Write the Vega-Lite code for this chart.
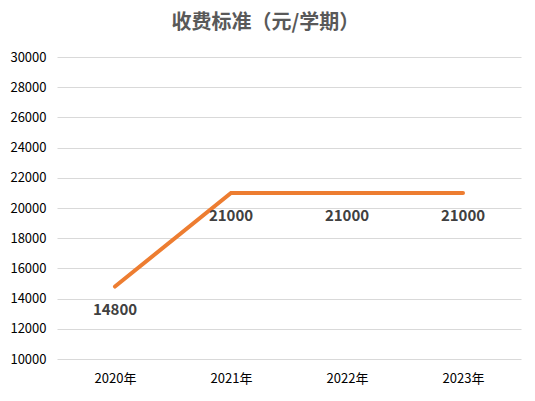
{
  "$schema": "https://vega.github.io/schema/vega-lite/v6.json",
  "autosize": {"type": "none"},
  "padding": {"left": 57, "top": 57, "right": 14, "bottom": 42},
  "width": 464,
  "height": 302,
  "background": "white",
  "title": {
    "text": "收费标准（元/学期）",
    "font": "Noto Sans CJK SC",
    "fontSize": 20,
    "fontWeight": "bold",
    "color": "#595959",
    "anchor": "middle",
    "frame": "bounds",
    "offset": 18
  },
  "data": {
    "values": [
      {"year": "2020年", "fee": 14800},
      {"year": "2021年", "fee": 21000},
      {"year": "2022年", "fee": 21000},
      {"year": "2023年", "fee": 21000}
    ]
  },
  "encoding": {
    "x": {
      "field": "year",
      "type": "ordinal",
      "sort": null,
      "scale": {"paddingInner": 0, "paddingOuter": 0},
      "axis": {
        "title": null,
        "labelAngle": 0,
        "domain": false,
        "ticks": false,
        "labelPadding": 13,
        "labelFont": "Noto Sans CJK SC",
        "labelFontSize": 13,
        "labelColor": "#000000"
      }
    },
    "y": {
      "field": "fee",
      "type": "quantitative",
      "scale": {"domain": [10000, 30000]},
      "axis": {
        "title": null,
        "format": "d",
        "values": [10000, 12000, 14000, 16000, 18000, 20000, 22000, 24000, 26000, 28000, 30000],
        "domain": false,
        "ticks": false,
        "labelPadding": 11,
        "labelFont": "Noto Sans CJK SC",
        "labelFontSize": 13,
        "labelColor": "#000000",
        "gridColor": "#d9d9d9",
        "gridWidth": 1
      }
    }
  },
  "layer": [
    {
      "mark": {"type": "line", "color": "#ED7D31", "strokeWidth": 4, "strokeCap": "round"}
    },
    {
      "mark": {
        "type": "text",
        "dy": 23,
        "font": "Noto Sans CJK SC",
        "fontSize": 15,
        "fontWeight": "bold",
        "color": "#404040"
      },
      "encoding": {"text": {"field": "fee", "type": "quantitative", "format": "d"}}
    }
  ],
  "config": {"view": {"stroke": null}}
}
